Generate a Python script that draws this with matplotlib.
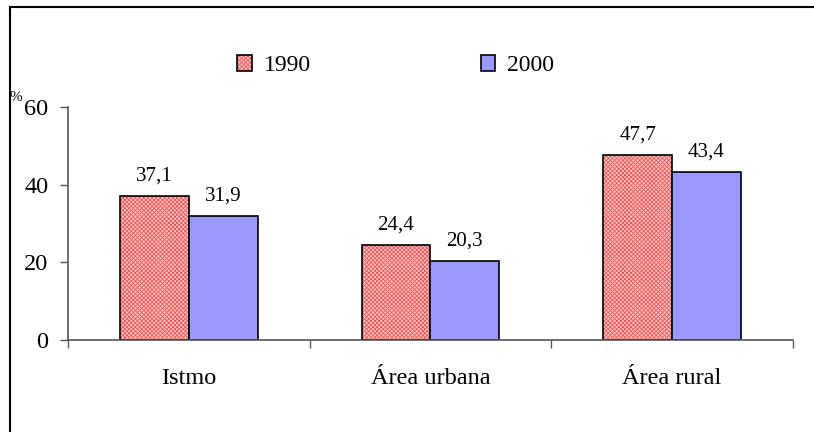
import matplotlib.pyplot as plt
import matplotlib.patches as mpatches
import numpy as np

categories = ["Istmo", "Área urbana", "Área rural"]
years = ["1990", "2000"]
values_1990 = [37.1, 24.4, 47.7]
values_2000 = [31.9, 20.3, 43.4]

plt.rcParams['font.family'] = ['Liberation Serif', 'DejaVu Serif']
plt.rcParams['hatch.linewidth'] = 0.6

fig = plt.figure(figsize=(8.14, 4.32), dpi=100)
ax = fig.add_axes([0.0835, 0.213, 0.8905, 0.539])

x = np.arange(len(categories))
w = 0.285

bars1 = ax.bar(x - w / 2, values_1990, w, facecolor='#f9c4c4', edgecolor='black',
               linewidth=1.2, hatch='xxxxxxxx', label=years[0])
for b in bars1:
    b._hatch_color = (0.92, 0.35, 0.35, 1.0)
bars2 = ax.bar(x + w / 2, values_2000, w, facecolor='#9999ff', edgecolor='black',
               linewidth=1.2, label=years[1])

# etiquetas de valor con coma decimal
for bars, vals in ((bars1, values_1990), (bars2, values_2000)):
    for b, v in zip(bars, vals):
        ax.annotate(f"{v:.1f}".replace('.', ','), (b.get_x() + b.get_width() / 2, v),
                    xytext=(0, 11), textcoords='offset points', ha='center', va='baseline',
                    fontsize=15)

ax.set_xlim(-0.5, 2.5)
ax.set_ylim(0, 60)
ax.set_yticks([0, 20, 40, 60])
ax.tick_params(axis='y', labelsize=17.5, length=6, width=1, color='#555555', pad=8)

ax.set_xticks(x)
ax.set_xticklabels(categories, fontsize=17.5)
ax.set_xticks([-0.5, 0.5, 1.5, 2.5], minor=True)
ax.tick_params(axis='x', which='major', length=0, pad=20)
ax.tick_params(axis='x', which='minor', length=6, width=1, color='#555555')

for s in ('top', 'right'):
    ax.spines[s].set_visible(False)
for s in ('left', 'bottom'):
    ax.spines[s].set_color('#555555')
    ax.spines[s].set_linewidth(1.2)

fig.text(0.012, 0.775, "%", fontsize=11, ha='left', va='center')

ax.legend(loc='center', bbox_to_anchor=(0.452, 1.177), ncol=2, frameon=False,
          fontsize=17, handlelength=0.62, handleheight=0.62, handletextpad=0.5,
          columnspacing=7.2)

# marco exterior
fig.add_artist(mpatches.Rectangle((10 / 814, -0.1), 1.2, 1.1 - 7 / 432,
                                  transform=fig.transFigure, fill=False,
                                  edgecolor='black', linewidth=1.5))

fig.savefig("out.png", dpi=100)
